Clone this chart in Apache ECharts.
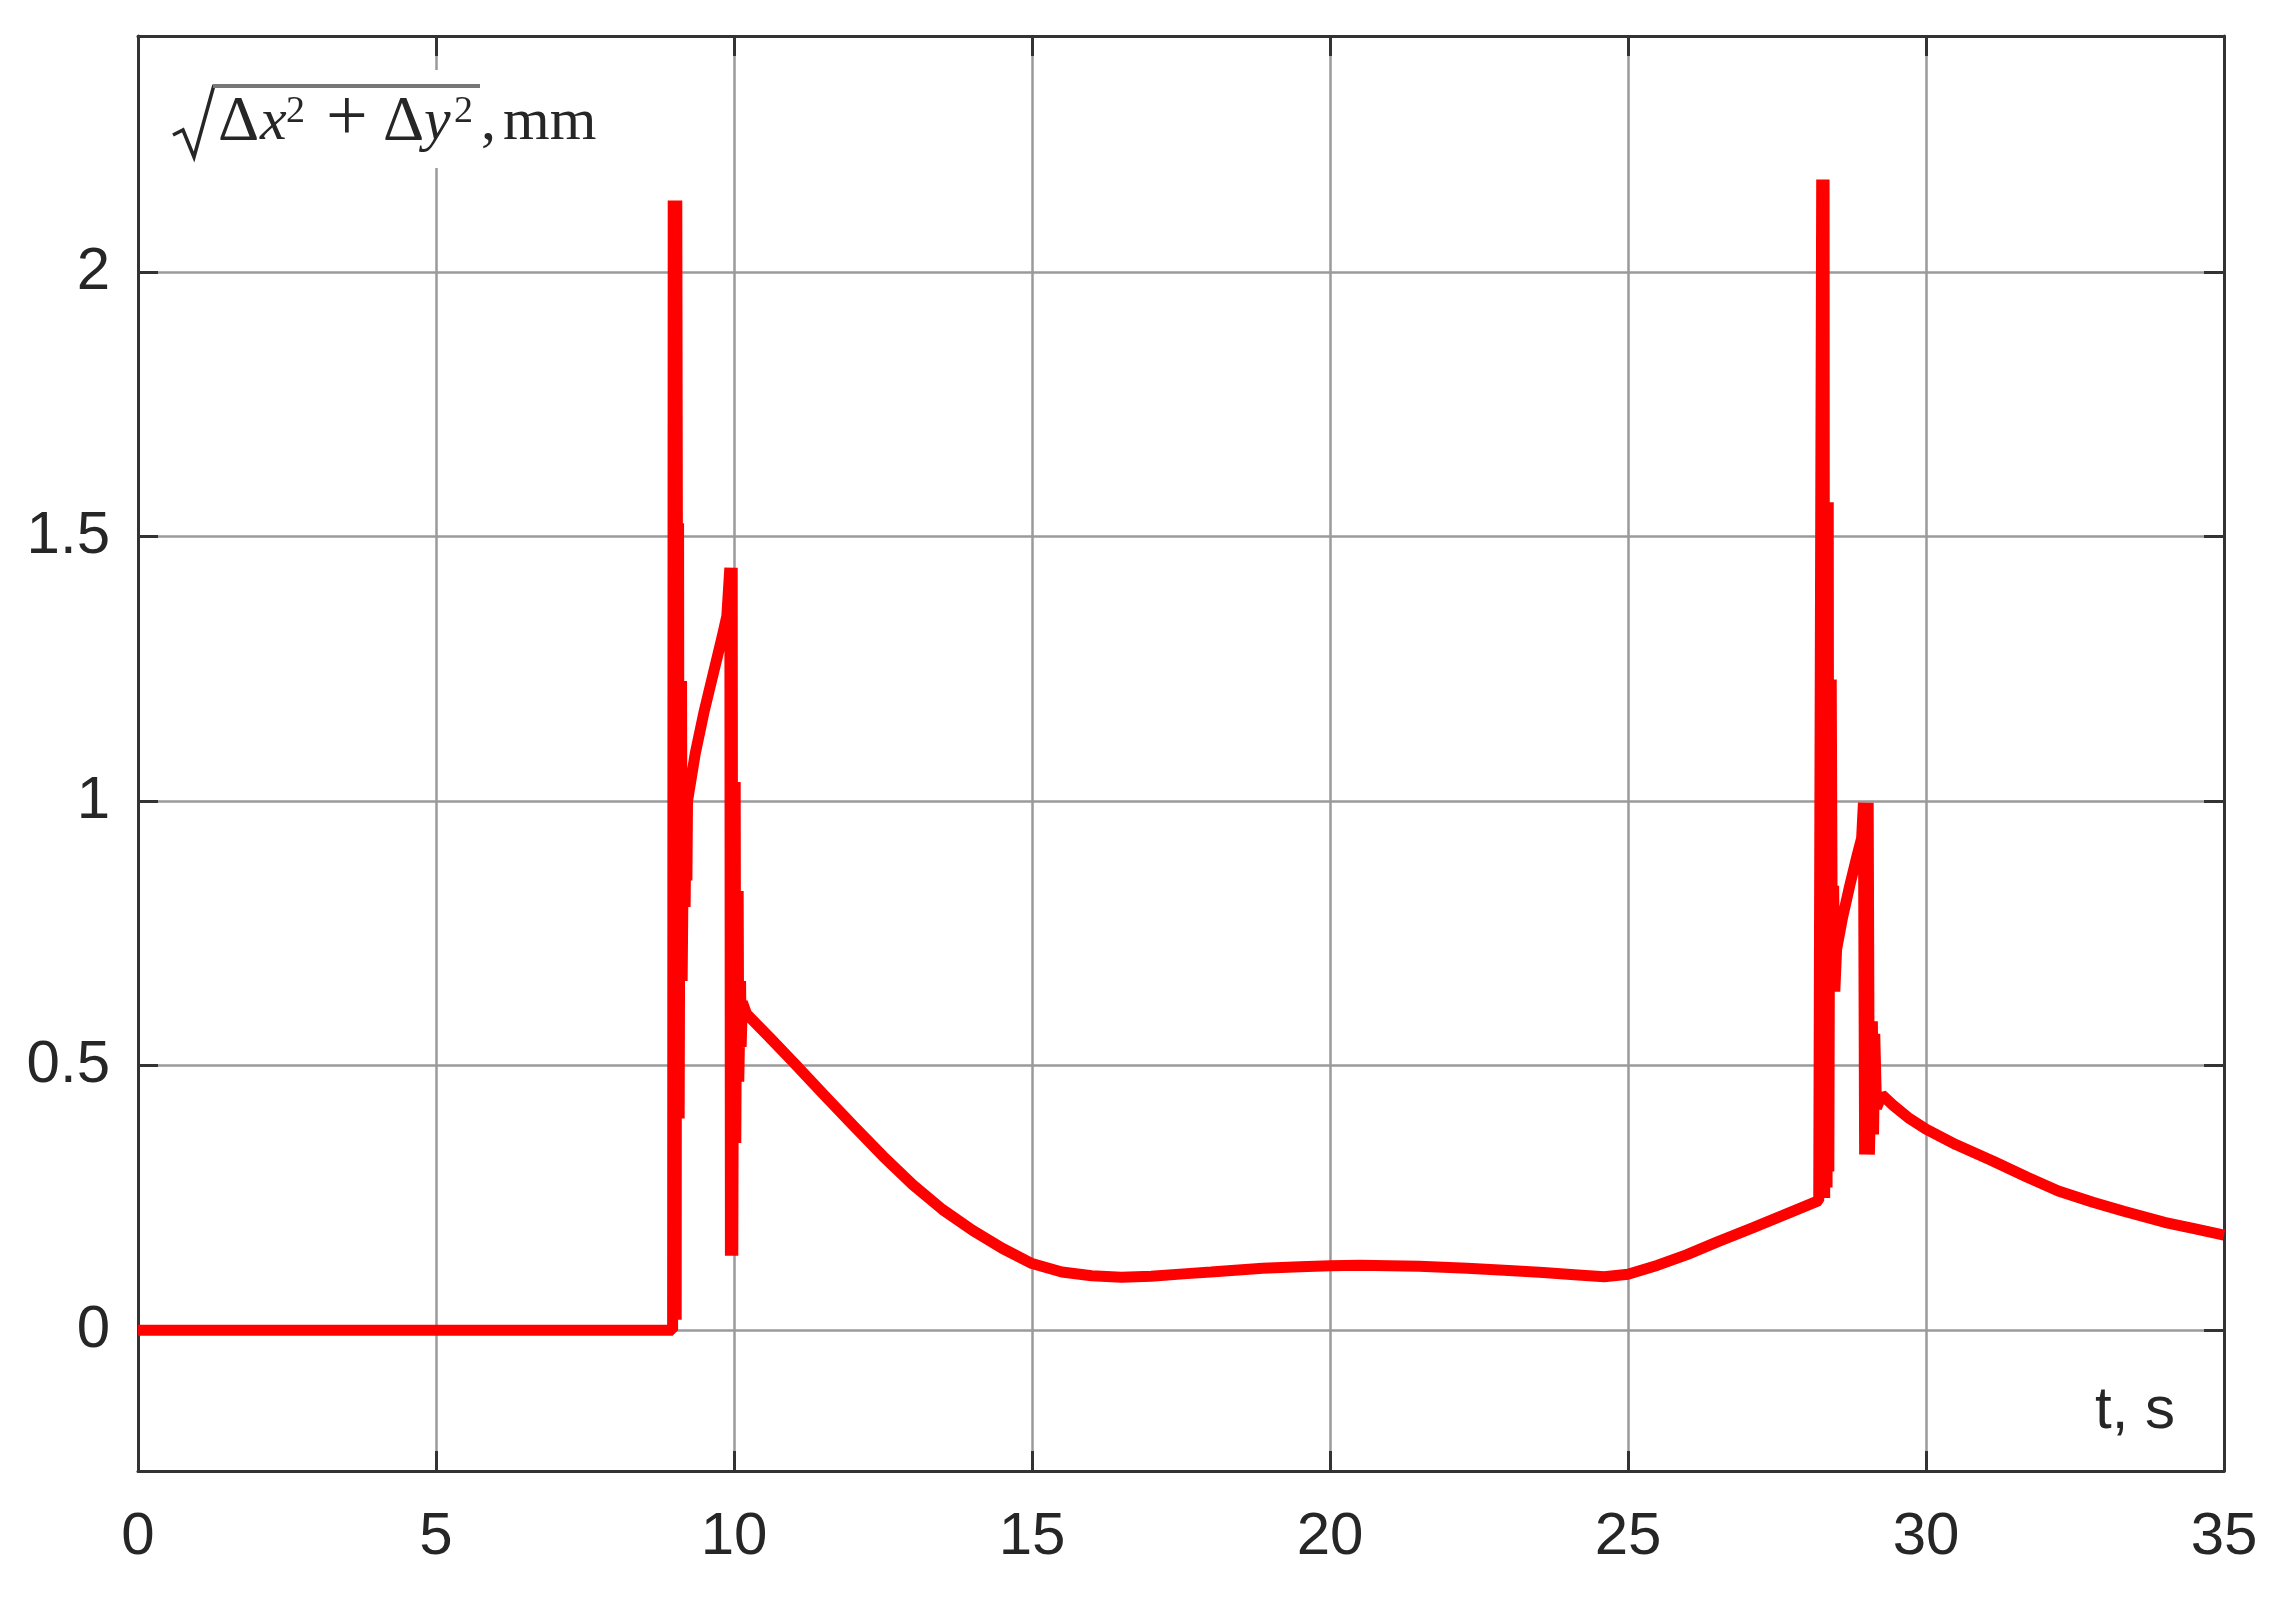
<!DOCTYPE html>
<html><head><meta charset="utf-8">
<script src="https://cdn.jsdelivr.net/npm/echarts@6/dist/echarts.min.js"></script>
<style>html,body{margin:0;padding:0;background:#fff}#c{width:2287px;height:1598px}</style>
</head><body><div id="c"></div>
<script>
// time, s
const timeS = [0, 8.97,
  8.98, 8.99, 9.00, 9.01, 9.02, 9.03, 9.04, 9.05, 9.06, 9.07, 9.08, 9.10, 9.11, 9.12, 9.13, 9.16, 9.18, 9.20, 9.21, 9.22,
  9.35, 9.50, 9.65, 9.80, 9.88,
  9.93, 9.94, 9.95, 9.96, 9.97, 9.98, 10.00, 10.01, 10.02, 10.03, 10.05, 10.06, 10.07, 10.08, 10.11, 10.12, 10.14, 10.21,
  10.60, 11.00, 11.50, 12.00, 12.50, 13.00, 13.50, 14.00, 14.50, 15.00, 15.50, 16.00, 16.50, 17.00, 17.60, 18.00, 18.87,
  19.50, 20.00, 20.50, 21.00, 21.50, 22.30, 23.00, 23.58, 24.10, 24.60, 25.00, 25.50, 25.99, 26.50, 27.10, 27.60, 28.20,
  28.25, 28.26, 28.27, 28.28, 28.29, 28.30, 28.33, 28.34, 28.36, 28.37, 28.39, 28.40, 28.41, 28.43, 28.45, 28.47,
  28.50, 28.60, 28.72, 28.85, 28.92,
  28.95, 28.97, 28.99, 29.01, 29.03, 29.05, 29.10, 29.12, 29.14, 29.17, 29.26,
  29.45, 29.70, 30.00, 30.50, 31.12, 31.70, 32.22, 32.80, 33.32, 34.00, 34.50, 35.00];
// sqrt(dx^2+dy^2), mm
const displacementMm = [0, 0,
  2.135, 0.02, 2.135, 0.02, 2.135, 0.02, 2.135, 1.525, 0.40, 1.525, 0.40, 1.227, 0.66, 1.227, 0.66, 1.04, 0.80, 1.04, 0.85, 1.00,
  1.09, 1.17, 1.24, 1.31, 1.35,
  1.441, 0.141, 1.441, 0.141, 1.441, 0.141, 1.036, 0.354, 1.036, 0.354, 0.83, 0.47, 0.83, 0.47, 0.66, 0.535, 0.62, 0.598,
  0.553, 0.506, 0.446, 0.387, 0.329, 0.275, 0.228, 0.189, 0.155, 0.126, 0.110, 0.103, 0.100, 0.102, 0.107, 0.110, 0.117,
  0.120, 0.122, 0.123, 0.122, 0.121, 0.117, 0.113, 0.109, 0.105, 0.101, 0.106, 0.123, 0.143, 0.167, 0.194, 0.217, 0.245,
  2.175, 0.25, 2.175, 0.25, 2.175, 0.25, 1.565, 0.27, 1.565, 0.30, 1.23, 0.84, 1.23, 0.64, 0.84, 0.64,
  0.72, 0.78, 0.84, 0.90, 0.93,
  0.997, 0.332, 0.997, 0.332, 0.997, 0.332, 0.584, 0.37, 0.56, 0.42, 0.445,
  0.425, 0.402, 0.380, 0.351, 0.320, 0.289, 0.263, 0.242, 0.225, 0.204, 0.192, 0.180];
const xTickValues = [0, 5, 10, 15, 20, 25, 30, 35];
const yTickValues = [0, 0.5, 1, 1.5, 2];
const yRange = [-0.266, 2.446];
const xRange = [0, 35];
const xLabel = 't, s';

const chart = echarts.init(document.getElementById('c'));
const seriesData = timeS.map((t, i) => [t, displacementMm[i]]);
const axisColor = '#333333';
const textColor = '#262626';
const gridColor = '#9a9a9a';
const labelFont = {fontFamily: 'Liberation Sans', fontSize: 60, color: textColor};
const serif = 'Liberation Serif';

function txt(x, y, s, size, italic) {
  return {type: 'text', z: 11, x: x, y: y, style: {
    text: s, fontFamily: serif, fontSize: size, fontStyle: italic ? 'italic' : 'normal',
    fill: textColor, textVerticalAlign: 'middle', textAlign: 'left'}};
}

chart.setOption({
  animation: false,
  backgroundColor: '#ffffff',
  grid: {left: 138, top: 36, width: 2086, height: 1435, containLabel: false},
  xAxis: [{
    type: 'value', min: xRange[0], max: xRange[1], interval: 5, position: 'bottom',
    axisLine: {show: true, onZero: false, lineStyle: {color: axisColor, width: 3}},
    axisTick: {show: true, inside: true, length: 20, lineStyle: {color: axisColor, width: 3}},
    axisLabel: Object.assign({margin: 36}, labelFont),
    splitLine: {show: true, lineStyle: {color: gridColor, width: 2.5}}
  }, {
    type: 'value', min: xRange[0], max: xRange[1], interval: 5, position: 'top',
    axisLine: {show: true, onZero: false, lineStyle: {color: axisColor, width: 3}},
    axisTick: {show: true, inside: true, length: 20, lineStyle: {color: axisColor, width: 3}},
    axisLabel: {show: false}, splitLine: {show: false}
  }],
  yAxis: [{
    type: 'value', min: yRange[0], max: yRange[1], position: 'left',
    axisLine: {show: true, onZero: false, lineStyle: {color: axisColor, width: 3}},
    axisTick: {show: true, inside: true, length: 20, customValues: yTickValues, lineStyle: {color: axisColor, width: 3}},
    axisLabel: Object.assign({margin: 28, customValues: yTickValues}, labelFont),
    splitLine: {show: true, lineStyle: {color: gridColor, width: 2.5}}
  }, {
    type: 'value', min: yRange[0], max: yRange[1], position: 'right',
    axisLine: {show: true, onZero: false, lineStyle: {color: axisColor, width: 3}},
    axisTick: {show: true, inside: true, length: 20, customValues: yTickValues, lineStyle: {color: axisColor, width: 3}},
    axisLabel: {show: false}, splitLine: {show: false}
  }],
  series: [{
    type: 'line', data: seriesData, xAxisIndex: 0, yAxisIndex: 0,
    showSymbol: false, symbol: 'none', smooth: false,
    lineStyle: {color: '#ff0000', width: 11, join: 'bevel', cap: 'butt'},
    z: 5
  }],
  graphic: [
    {type: 'rect', z: 10, shape: {x: 160, y: 70, width: 450, height: 98}, style: {fill: '#ffffff'}},
    {type: 'polyline', z: 11, shape: {points: [[173, 135], [183, 130], [194, 157], [214, 85]]},
      style: {stroke: textColor, lineWidth: 3.5, fill: null, lineJoin: 'miter'}},
    {type: 'line', z: 11, shape: {x1: 213, y1: 86, x2: 480, y2: 86},
      style: {stroke: '#777777', lineWidth: 4}},
    txt(218, 123, 'Δ', 64, false),
    txt(260, 123, 'x', 60, true),
    txt(286, 112, '2', 38, false),
    txt(326, 121, '+', 74, false),
    txt(383, 123, 'Δ', 64, false),
    txt(424, 123, 'y', 60, true),
    txt(454, 112, '2', 38, false),
    txt(481, 123, ',', 60, false),
    txt(503, 123, 'mm', 60, false),
    {type: 'text', z: 11, x: 2095, y: 1411, style: {
      text: xLabel, fontFamily: 'Liberation Sans', fontSize: 60, fill: textColor,
      textVerticalAlign: 'middle', textAlign: 'left'
    }}
  ]
});
</script>
</body></html>
